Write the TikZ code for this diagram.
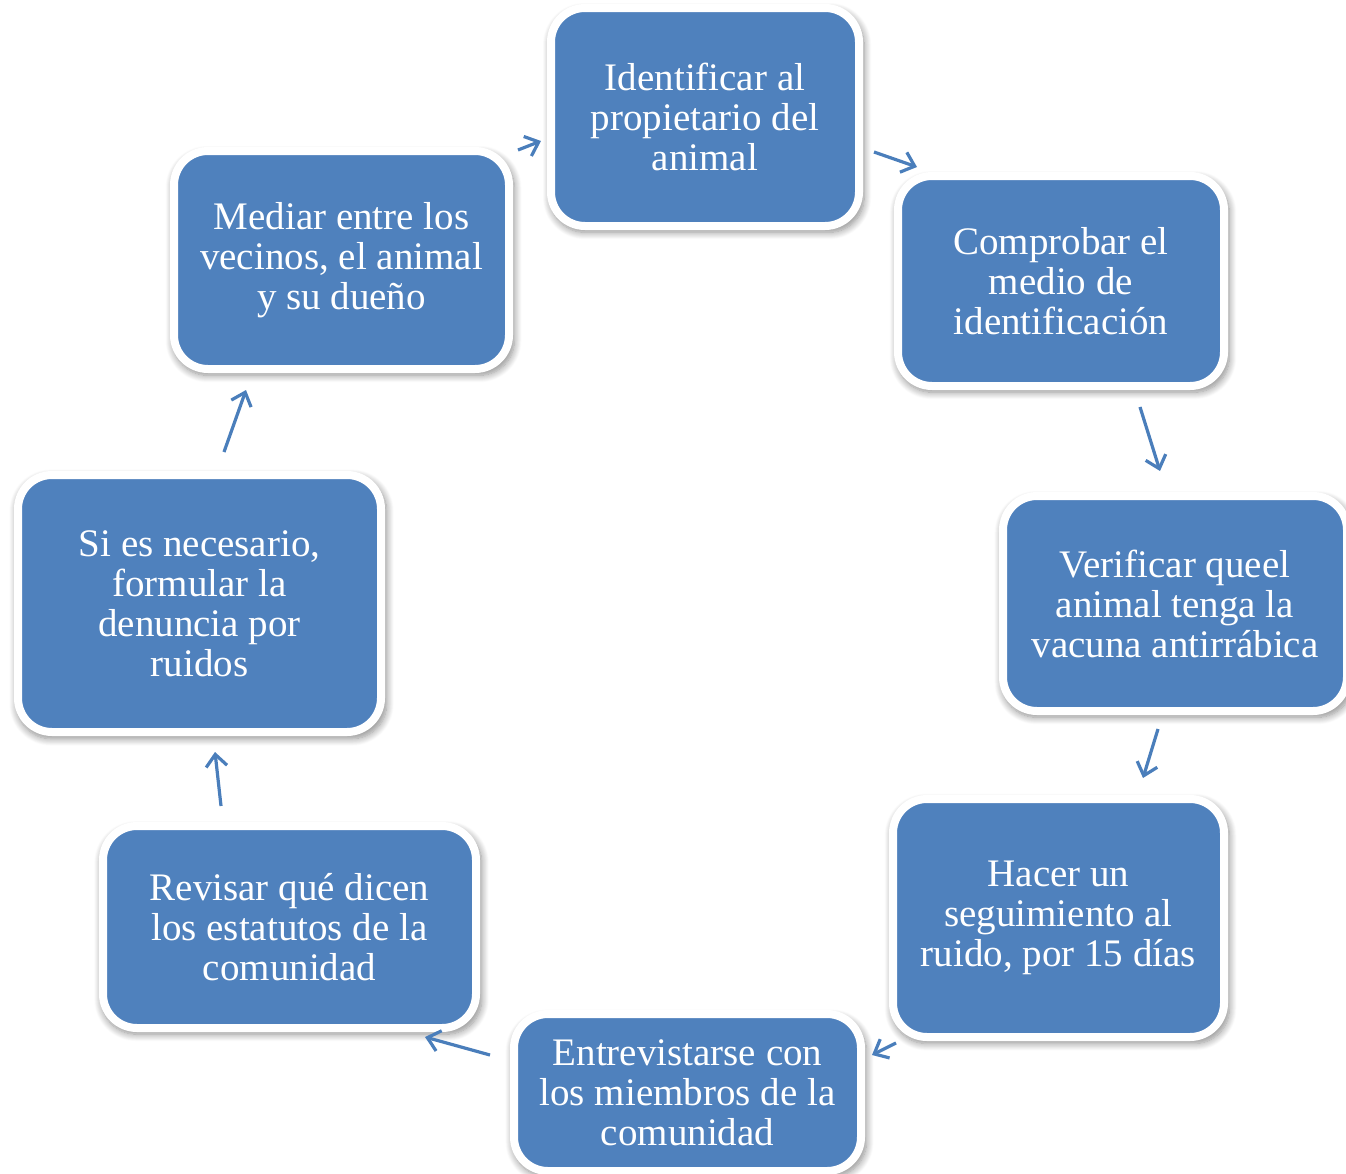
\documentclass[tikz,border=0pt]{standalone}
\usepackage{fontspec}
\setmainfont{Liberation Serif}
\usetikzlibrary{arrows.meta,shadows.blur}
\definecolor{boxblue}{HTML}{4F81BD}
\definecolor{arrblue}{HTML}{4A7EBB}
\tikzset{
  stepbox/.style={rectangle, rounded corners=34pt, fill=boxblue, draw=white,
    line width=8pt, inner sep=0pt, align=center, text=white,
    font=\fontsize{39}{40}\selectfont,
    blur shadow={shadow xshift=2pt, shadow yshift=-4pt, shadow blur radius=7pt,
      shadow blur steps=10, shadow opacity=45, shadow scale=1.02}},
  flow/.style={draw=arrblue, line width=3.2pt,
    -{Straight Barb[length=12pt,width=21pt]}}
}
\begin{document}
\begin{tikzpicture}[x=1pt,y=-1pt]
\useasboundingbox (0,0) rectangle (1346,1173);
\node[stepbox, minimum width=308pt, minimum height=218pt] (ident) at (705,117)
  {Identificar al\\propietario del\\animal};
\node[stepbox, minimum width=326pt, minimum height=210pt] (compr) at (1061,281)
  {Comprobar el\\medio de\\identificación};
\node[stepbox, minimum width=344pt, minimum height=215pt] (verif) at (1175,603.5)
  {Verificar queel\\animal tenga la\\vacuna antirrábica};
\node[stepbox, minimum width=331pt, minimum height=238pt] (hacer) at (1058.5,918)
  {Hacer un\\seguimiento al\\ruido, por 15 días};
\node[stepbox, minimum width=347pt, minimum height=157pt] (entre) at (687.5,1092.5)
  {Entrevistarse con\\los miembros de la\\comunidad};
\node[stepbox, minimum width=373pt, minimum height=202pt] (revis) at (289.5,927)
  {Revisar qué dicen\\los estatutos de la\\comunidad};
\node[stepbox, minimum width=363pt, minimum height=257pt] (sies) at (199.5,603.5)
  {Si es necesario,\\formular la\\denuncia por\\ruidos};
\node[stepbox, minimum width=335pt, minimum height=218pt] (media) at (341.5,260)
  {Mediar entre los\\vecinos, el animal\\y su dueño};

\coordinate (a1s) at (518,150); \coordinate (a1e) at (541,141);
\coordinate (a2s) at (874,152); \coordinate (a2e) at (917,167);
\coordinate (a3s) at (1140,407); \coordinate (a3e) at (1160,471);
\coordinate (a4s) at (1158,729); \coordinate (a4e) at (1143,778);
\coordinate (a5s) at (896,1043); \coordinate (a5e) at (872,1055);
\coordinate (a6s) at (490,1055); \coordinate (a6e) at (425,1037);
\coordinate (a7s) at (221,806); \coordinate (a7e) at (215,752);
\coordinate (a8s) at (224,452); \coordinate (a8e) at (246,390);

\draw[flow] (a1s) -- (a1e);
\draw[flow] (a2s) -- (a2e);
\draw[flow] (a3s) -- (a3e);
\draw[flow] (a4s) -- (a4e);
\draw[flow] (a5s) -- (a5e);
\draw[flow] (a6s) -- (a6e);
\draw[flow] (a7s) -- (a7e);
\draw[flow] (a8s) -- (a8e);
\end{tikzpicture}
\end{document}
